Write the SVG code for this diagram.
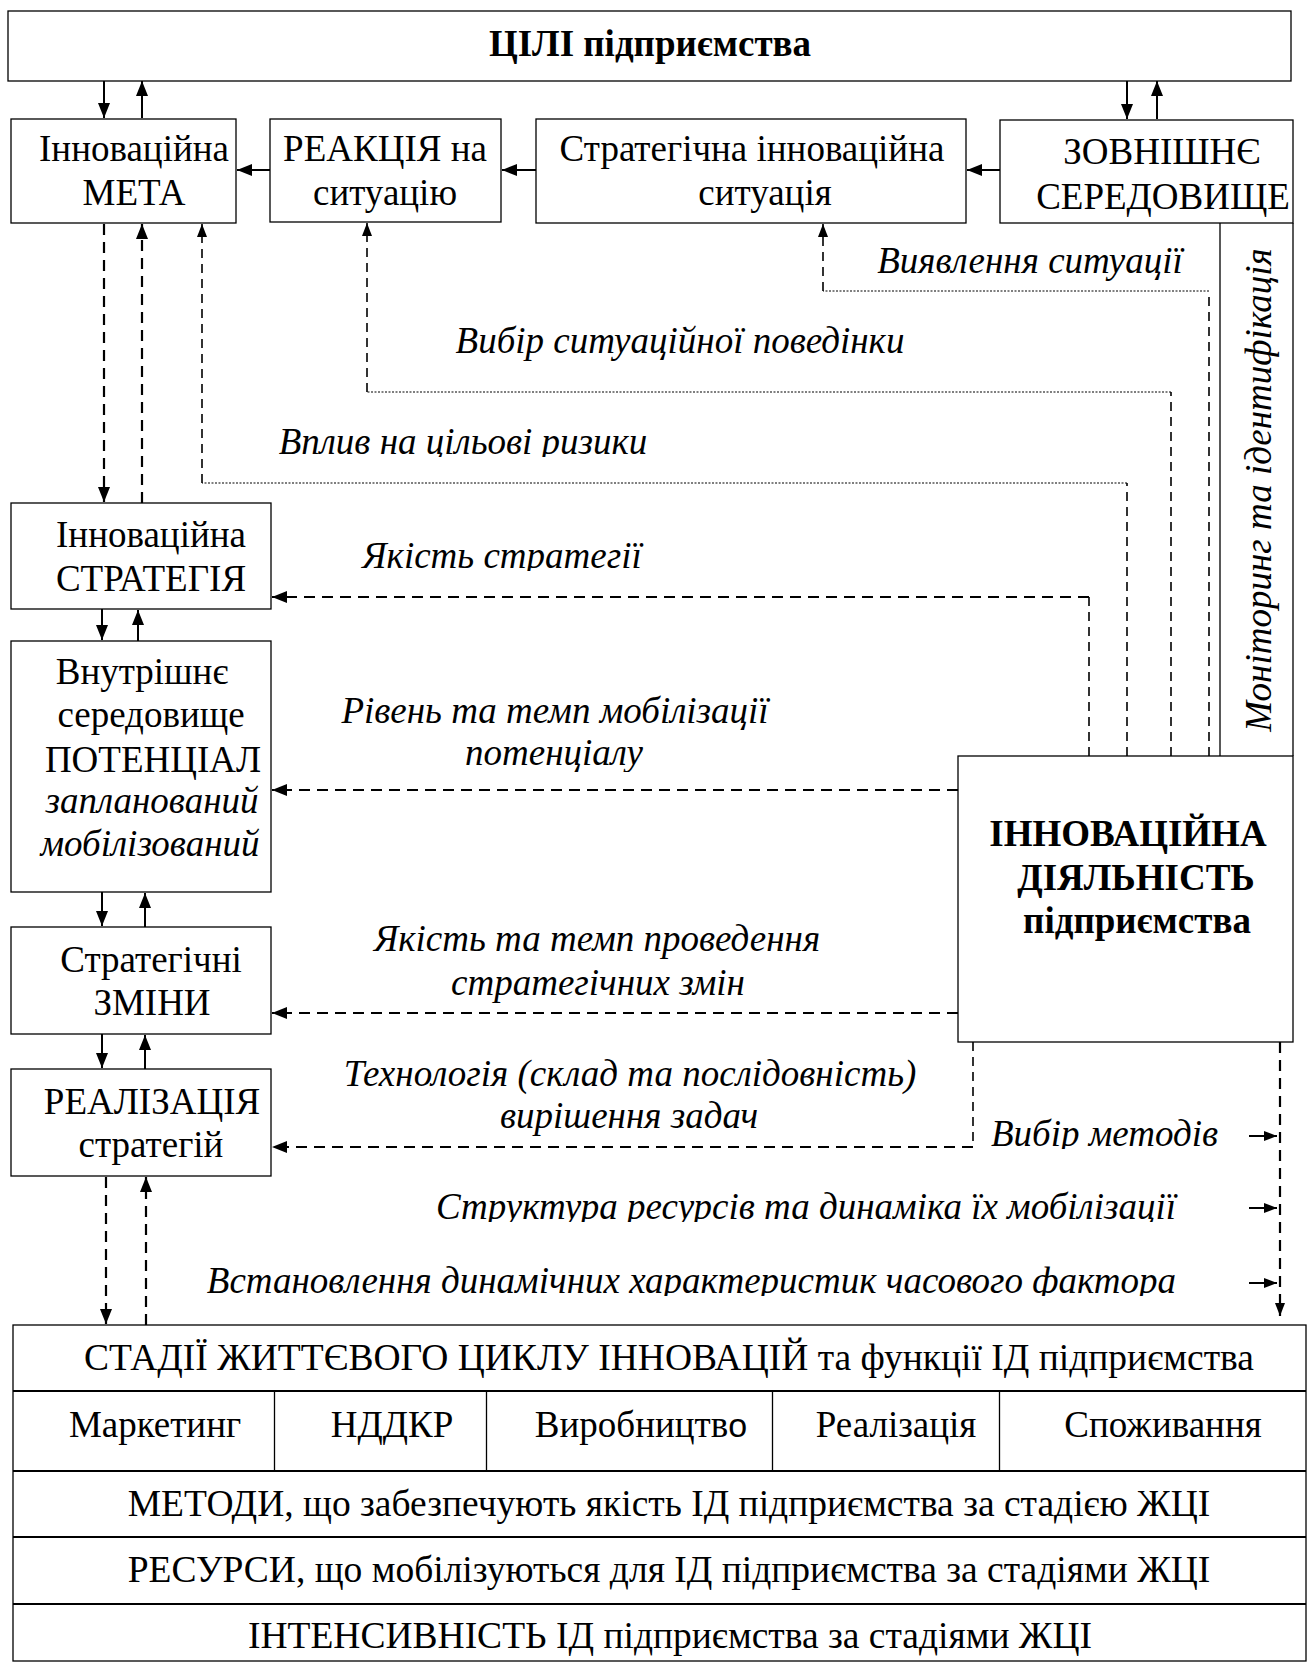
<svg xmlns="http://www.w3.org/2000/svg" width="1310" height="1662" viewBox="0 0 1310 1662">
<style>
text{font-family:"Liberation Serif","Times New Roman",serif;font-size:37px;fill:#000}
.c{text-anchor:middle}
.i{font-style:italic}
.b{font-weight:bold}
.t{font-size:37.5px}
.box{fill:#fff;stroke:#000;stroke-width:1.3}
.sol{fill:none;stroke:#000;stroke-width:2}
.dh{fill:none;stroke:#000;stroke-width:2.2;stroke-dasharray:11 7}
.dt{fill:none;stroke:#000;stroke-width:1.6;stroke-dasharray:9 6}
.dot{fill:none;stroke:#000;stroke-width:1.2;stroke-dasharray:2 1.5}
.tl{fill:none;stroke:#000;stroke-width:1.8}
</style>
<defs>
<marker id="a" markerUnits="userSpaceOnUse" markerWidth="16" markerHeight="12" refX="15" refY="6" orient="auto"><path d="M0,0 L15,6 L0,12 z" fill="#000"/></marker>
<marker id="s" markerUnits="userSpaceOnUse" markerWidth="14" markerHeight="10" refX="13" refY="5" orient="auto"><path d="M0,0 L13,5 L0,10 z" fill="#000"/></marker>
<clipPath id="k1" clipPathUnits="userSpaceOnUse"><rect x="0" y="400" width="1310" height="57"/></clipPath>
<clipPath id="k2" clipPathUnits="userSpaceOnUse"><rect x="0" y="510" width="1310" height="61"/></clipPath>
<clipPath id="k3" clipPathUnits="userSpaceOnUse"><rect x="0" y="730" width="1310" height="42"/></clipPath>
<clipPath id="k4" clipPathUnits="userSpaceOnUse"><rect x="0" y="1100" width="1310" height="49"/></clipPath>
<clipPath id="k5" clipPathUnits="userSpaceOnUse"><rect x="0" y="1170" width="1310" height="52"/></clipPath>
<clipPath id="k6" clipPathUnits="userSpaceOnUse"><rect x="0" y="1240" width="1310" height="56"/></clipPath>
</defs>
<rect width="1310" height="1662" fill="#fff"/>

<g id="goals"><rect class="box" x="8" y="11" width="1283" height="70"/><text class="c b" x="650" y="56">ЦІЛІ підприємства</text></g>
<g id="meta"><rect class="box" x="11" y="119" width="225" height="104"/><text class="c" x="134" y="161">Інноваційна</text><text class="c" x="134" y="205">МЕТА</text></g>
<g id="reaction"><rect class="box" x="270" y="119" width="231" height="103"/><text class="c" x="385" y="161">РЕАКЦІЯ на</text><text class="c" x="385" y="205">ситуацію</text></g>
<g id="situation"><rect class="box" x="536" y="119" width="430" height="104"/><text class="c" x="752" y="161">Стратегічна інноваційна</text><text class="c" x="765" y="205">ситуація</text></g>
<g id="external"><rect class="box" x="1000" y="120" width="293" height="103"/><text class="c" x="1162" y="164">ЗОВНІШНЄ</text><text class="c" x="1163" y="209">СЕРЕДОВИЩЕ</text></g>
<g id="monitoring"><path class="box" d="M1220,223 V756 M1293,223 V756" fill="none"/><text class="i c" transform="translate(1271,490) rotate(-90)">Моніторинг та ідентифікація</text></g>
<g id="strategy"><rect class="box" x="11" y="503" width="260" height="106"/><text class="c" x="151" y="547">Інноваційна</text><text class="c" x="151" y="591">СТРАТЕГІЯ</text></g>
<g id="potential"><rect class="box" x="11" y="641" width="260" height="251"/><text class="c" x="142" y="684">Внутрішнє</text><text class="c" x="151" y="727">середовище</text><text class="c" x="153" y="772">ПОТЕНЦІАЛ</text><text class="c i" x="152" y="813">запланований</text><text class="c i" x="150" y="856">мобілізований</text></g>
<g id="changes"><rect class="box" x="11" y="927" width="260" height="107"/><text class="c" x="151" y="972">Стратегічні</text><text class="c" x="152" y="1015">ЗМІНИ</text></g>
<g id="realization"><rect class="box" x="11" y="1069" width="260" height="107"/><text class="c" x="152" y="1114">РЕАЛІЗАЦІЯ</text><text class="c" x="151" y="1157">стратегій</text></g>
<g id="activity"><rect class="box" x="958" y="756" width="335" height="286"/><text class="c b" x="1128" y="846">ІННОВАЦІЙНА</text><text class="c b" x="1136" y="890">ДІЯЛЬНІСТЬ</text><text class="c b" x="1137" y="933">підприємства</text></g>

<g id="lifecycle">
<rect class="box" x="13" y="1325" width="1293" height="336"/>
<path class="tl" d="M13,1391 H1306 M13,1471 H1306 M13,1537 H1306 M13,1604 H1306"/>
<path class="box" d="M274.5,1391 V1471 M486.5,1391 V1471 M772.5,1391 V1471 M999.5,1391 V1471" fill="none"/>
<text class="c t" x="669" y="1370">СТАДІЇ ЖИТТЄВОГО ЦИКЛУ ІННОВАЦІЙ та функції ІД підприємства</text>
<text class="c" x="155" y="1437">Маркетинг</text>
<text class="c" x="392" y="1437">НДДКР</text>
<text class="c" x="641" y="1437">Виробництв<tspan style="font-family:'Liberation Sans',Arial,sans-serif;font-size:34px">о</tspan></text>
<text class="c" x="896" y="1437">Реалізація</text>
<text class="c" x="1163" y="1437">Споживання</text>
<text class="c t" x="669" y="1516">МЕТОДИ, що забезпечують якість ІД підприємства за стадією ЖЦІ</text>
<text class="c t" x="669" y="1582">РЕСУРСИ, що мобілізуються для ІД підприємства за стадіями ЖЦІ</text>
<text class="c t" x="670" y="1648">ІНТЕНСИВНІСТЬ ІД підприємства за стадіями ЖЦІ</text>
</g>

<g id="connectors">
<path class="sol" d="M104,81 V118" marker-end="url(#a)"/>
<path class="sol" d="M142,118 V81" marker-end="url(#a)"/>
<path class="sol" d="M1127,81 V119" marker-end="url(#a)"/>
<path class="sol" d="M1157,119 V81" marker-end="url(#a)"/>
<path class="sol" d="M270,170 H237" marker-end="url(#a)"/>
<path class="sol" d="M536,170 H502" marker-end="url(#a)"/>
<path class="sol" d="M1000,170 H967" marker-end="url(#a)"/>
<path class="sol" d="M102,609 V640" marker-end="url(#a)"/>
<path class="sol" d="M138,641 V610" marker-end="url(#a)"/>
<path class="sol" d="M102,892 V926" marker-end="url(#a)"/>
<path class="sol" d="M145,927 V893" marker-end="url(#a)"/>
<path class="sol" d="M102,1034 V1068" marker-end="url(#a)"/>
<path class="sol" d="M145,1069 V1035" marker-end="url(#a)"/>

<path class="dh" d="M104,224 V502" marker-end="url(#a)"/>
<path class="dh" d="M142,503 V224" marker-end="url(#a)"/>
<path class="dh" d="M106,1177 V1324" marker-end="url(#a)"/>
<path class="dh" d="M146,1325 V1177" marker-end="url(#a)"/>
<path class="dh" d="M958,790 H272" marker-end="url(#a)"/>
<path class="dh" d="M958,1013 H272" marker-end="url(#a)"/>
<path class="dt" d="M1089,756 V597"/>
<path class="dh" d="M1089,597 H272" marker-end="url(#a)"/>
<path class="dt" d="M973,1042 V1147"/>
<path class="dh" d="M973,1147 H272" marker-end="url(#a)"/>
<path class="dh" d="M1280,1042 V1316" marker-end="url(#s)"/>

<path class="dt" d="M1209,756 V291"/>
<path class="dot" d="M1209,291 H823"/>
<path class="dt" d="M823,291 V224" marker-end="url(#s)"/>
<path class="dt" d="M1171,756 V392"/>
<path class="dot" d="M1171,392 H367"/>
<path class="dt" d="M367,392 V223" marker-end="url(#s)"/>
<path class="dt" d="M1127,756 V483"/>
<path class="dot" d="M1127,483 H202"/>
<path class="dt" d="M202,483 V224" marker-end="url(#s)"/>

<path class="sol" d="M1249,1136 H1277" marker-end="url(#s)"/>
<path class="sol" d="M1249,1208 H1277" marker-end="url(#s)"/>
<path class="sol" d="M1249,1283 H1277" marker-end="url(#s)"/>
</g>

<g id="labels">
<text class="c i" x="1030" y="273">Виявлення ситуації</text>
<text class="c i" x="680" y="353">Вибір ситуаційної поведінки</text>
<text class="c i" x="463" y="454" clip-path="url(#k1)">Вплив на цільові ризики</text>
<text class="c i" x="502" y="568" clip-path="url(#k2)">Якість стратегії</text>
<text class="c i" x="555" y="723">Рівень та темп мобілізації</text>
<text class="c i" x="554" y="765" clip-path="url(#k3)">потенціалу</text>
<text class="c i" x="597" y="951">Якість та темп проведення</text>
<text class="c i" x="598" y="995">стратегічних змін</text>
<text class="c i" x="630" y="1086">Технологія (склад та послідовність)</text>
<text class="c i" x="629" y="1128">вирішення задач</text>
<text class="i" x="991" y="1146" clip-path="url(#k4)">Вибір методів</text>
<text class="i" text-anchor="end" x="1176" y="1219" clip-path="url(#k5)">Структура ресурсів та динаміка їх мобілізації</text>
<text class="i" text-anchor="end" x="1176" y="1293" clip-path="url(#k6)">Встановлення динамічних характеристик часового фактора</text>
</g>
</svg>
